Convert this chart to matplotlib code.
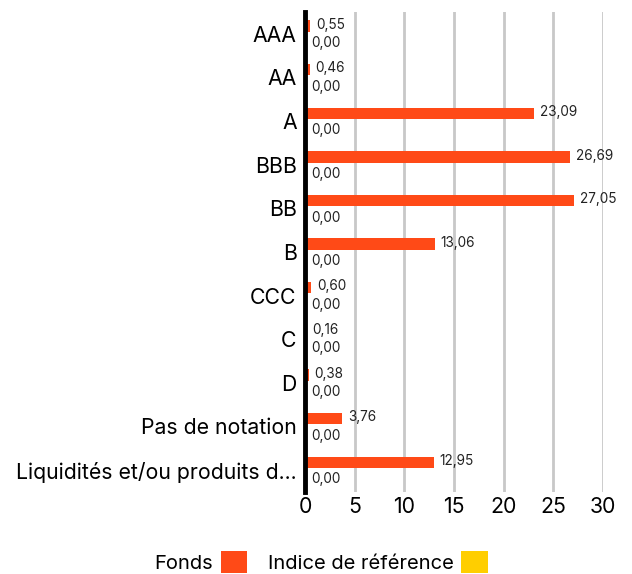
import matplotlib.pyplot as plt
import numpy as np

categories = ["AAA", "AA", "A", "BBB", "BB", "B", "CCC", "C", "D",
              "Pas de notation", "Liquidités et/ou produits d..."]
fonds = [0.55, 0.46, 23.09, 26.69, 27.05, 13.06, 0.60, 0.16, 0.38, 3.76, 12.95]
indice = [0.00] * 11

plt.rcParams['font.family'] = ['Inter', 'DejaVu Sans']

fig = plt.figure(figsize=(6.32, 5.74), dpi=100)
ax = fig.add_axes([0.4826, 0.143, 0.4715, 0.836])

y = np.arange(len(categories))
h = 0.26
off = 0.18
ax.barh(y - off, fonds, height=h, color='#FF4A17', label='Fonds', zorder=3)
ax.barh(y + off, indice, height=h, color='#FFCE00', label='Indice de référence', zorder=3)

def fmt(v):
    return f"{v:.2f}".replace('.', ',')

for yi, v in zip(y, fonds):
    ax.text(v + 0.6, yi - off - 0.03, fmt(v), va='center', ha='left', fontsize=9.8, color='#222222')
for yi, v in zip(y, indice):
    ax.text(v + 0.6, yi + off + 0.03, fmt(v), va='center', ha='left', fontsize=9.8, color='#222222')

ax.set_xlim(0, 30)
ax.set_ylim(len(categories) - 0.5, -0.5)
ax.set_yticks(y)
ax.set_yticklabels(categories, fontsize=15.3)
ax.set_xticks(range(0, 31, 5))
ax.tick_params(axis='x', labelsize=15.3, length=0, pad=4)
ax.tick_params(axis='y', length=0, pad=6)
ax.grid(axis='x', color='#c8c8c8', linewidth=2, zorder=0)
for s in ['top', 'right', 'bottom']:
    ax.spines[s].set_visible(False)
ax.spines['left'].set_linewidth(3.5)
ax.spines['left'].set_color('black')
ax.spines['left'].set_zorder(4)

leg = fig.legend(loc='lower center', bbox_to_anchor=(0.508, -0.03), ncol=2, frameon=False,
                 fontsize=14.5, markerfirst=False, handlelength=1.3, handleheight=1.3,
                 columnspacing=1.0, handletextpad=0.4)

fig.savefig('out.png', dpi=100)
